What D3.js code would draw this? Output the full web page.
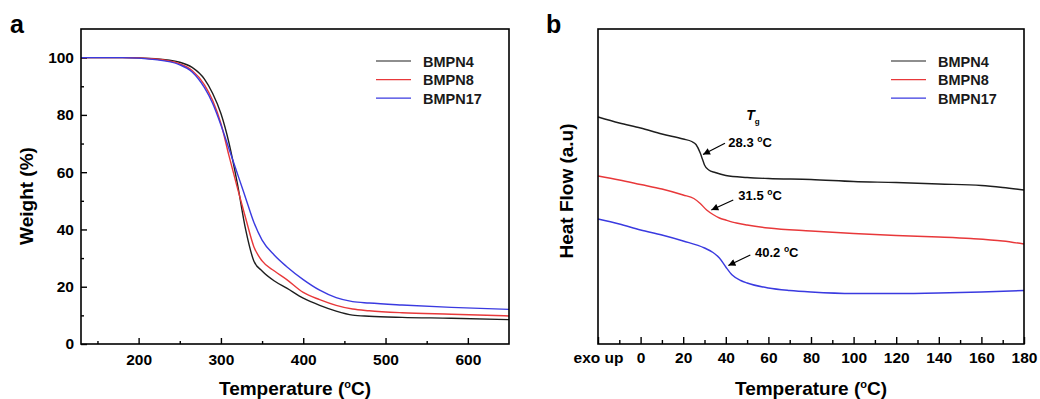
<!DOCTYPE html>
<html>
<head>
<meta charset="utf-8">
<script src="https://cdn.jsdelivr.net/npm/d3@7"></script>
<style>
  body { margin: 0; background: #fff; }
  text { font-family: "Liberation Sans", Arial, sans-serif; }
</style>
</head>
<body>
<svg id="chart" width="1040" height="399"></svg>
<script>
// ---- data ----
const seriesNames = ["BMPN4", "BMPN8", "BMPN17"];

// panel a: TGA, temperature (°C) vs weight (%)
const tgaTemp   = [130, 180, 220, 250, 265, 280, 290, 300, 310, 320, 330, 340, 350, 365, 380, 400, 420, 440, 460, 480, 520, 580, 650];
const tgaBMPN4  = [100, 100, 99.6, 98.4, 96.6, 92.5, 87.5, 80.5, 70, 56, 40, 29, 25.5, 22, 19.5, 16, 13.5, 11.5, 10.1, 9.7, 9.3, 9.0, 8.5];
const tgaBMPN8  = [100, 100, 99.5, 97.8, 95.5, 90.5, 85, 77, 65.5, 54.5, 44, 34, 29, 25.5, 22.5, 18, 15.5, 13.5, 12.2, 11.6, 10.9, 10.4, 9.8];
const tgaBMPN17 = [100, 100, 99.3, 97.5, 95, 89.5, 84, 76.5, 68, 59.5, 51, 42.5, 36.3, 31, 27, 22.5, 18.8, 16.2, 14.8, 14.3, 13.6, 12.8, 12.1];

// panel b: DSC, temperature (°C) vs heat flow (a.u.)
const dscTemp4  = [-20, -10, 0, 10, 20, 24, 26, 28, 29, 30, 32, 35, 40, 50, 60, 80, 100, 120, 140, 160, 170, 180];
const dscFlow4  = [227, 221, 216, 210, 205, 202.5, 199.5, 191, 185, 179, 174, 171.5, 168.5, 166.5, 165.5, 164.5, 162.5, 161.5, 160, 158.5, 156.5, 154];
const dscTemp8  = [-20, -10, 0, 10, 20, 25, 28, 31, 34, 37, 40, 45, 50, 60, 80, 100, 120, 140, 155, 170, 180];
const dscFlow8  = [168, 164, 159.5, 155, 149, 145.5, 140.5, 134, 129.5, 126, 124, 121, 119, 116, 113, 110.5, 108.5, 107, 105.5, 103, 100];
const dscTemp17 = [-20, -10, 0, 10, 20, 30, 34, 37, 40, 43, 47, 50, 60, 70, 80, 100, 120, 140, 160, 180];
const dscFlow17 = [125, 120, 114, 109, 103, 96, 91.5, 86, 77, 69, 63.5, 61, 56, 53.5, 52, 50.5, 50.5, 51, 52, 53.5];

const tgaXTicks = [200, 300, 400, 500, 600];
const tgaYTicks = [0, 20, 40, 60, 80, 100];
const dscXTicks = [-20, 0, 20, 40, 60, 80, 100, 120, 140, 160, 180];
const tgLabels  = ["28.3", "31.5", "40.2"];

// annotation anchors, in DSC data units: label start, arrow tail, arrow head
const annotations = [
  { label: tgLabels[0], lx: 41.2, ly: 197,  x1: 39.6, y1: 200.7, x2: 29.3, y2: 189.5 },
  { label: tgLabels[1], lx: 45.9, ly: 144,  x1: 43.5, y1: 144,   x2: 33.2, y2: 134 },
  { label: tgLabels[2], lx: 53.7, ly: 87.3, x1: 51.5, y1: 89,    x2: 41.2, y2: 78.5 }
];

const colors = ["#1e1e1e", "#e8383a", "#3a3ae0"];

// ---- layout ----
const svg = d3.select("#chart");
const frameA = { left: 81, right: 509, top: 29, bottom: 344 };
const frameB = { left: 598, right: 1024, top: 29, bottom: 344 };

svg.append("defs").append("marker")
  .attr("id", "arrow")
  .attr("viewBox", "0 0 10 10")
  .attr("refX", 10).attr("refY", 5)
  .attr("markerUnits", "userSpaceOnUse")
  .attr("markerWidth", 8).attr("markerHeight", 7)
  .attr("orient", "auto")
  .append("path").attr("d", "M0,0L10,5L0,10z").attr("fill", "#000");

function frame(f) {
  svg.append("rect")
    .attr("x", f.left).attr("y", f.top)
    .attr("width", f.right - f.left).attr("height", f.bottom - f.top)
    .attr("fill", "none").attr("stroke", "#000").attr("stroke-width", 1.6);
}

function styleAxis(g) {
  g.select(".domain").remove();
  g.selectAll(".tick line").attr("stroke", "#000").attr("stroke-width", 1.4);
  g.selectAll(".tick text")
    .attr("fill", "#000")
    .attr("font-size", 15.5).attr("font-weight", "bold");
}

// text with a small raised "o" used as the degree sign
function degreeText(sel, before, after, supSize, rise) {
  sel.append("tspan").text(before);
  sel.append("tspan").attr("font-size", supSize).attr("dy", -rise).text("o");
  sel.append("tspan").attr("dy", rise).text(after);
}

function legend(xLine, yTop) {
  seriesNames.forEach((name, i) => {
    const y = yTop + i * 18.6;
    svg.append("line")
      .attr("x1", xLine).attr("x2", xLine + 35)
      .attr("y1", y).attr("y2", y)
      .attr("stroke", colors[i]).attr("stroke-width", 1.2);
    svg.append("text")
      .attr("x", xLine + 47).attr("y", y + 5.5)
      .attr("font-size", 14.5).attr("font-weight", "bold").attr("fill", "#1a1a1a")
      .text(name);
  });
}

// ---- panel a ----
const xA = d3.scaleLinear().domain([130, 650]).range([frameA.left, frameA.right]);
const yA = d3.scaleLinear().domain([0, 110]).range([frameA.bottom, frameA.top]);

svg.append("g").attr("transform", `translate(0,${frameA.bottom})`)
  .call(d3.axisBottom(xA).tickValues(tgaXTicks).tickSize(-6).tickPadding(10))
  .call(styleAxis);
svg.append("g").attr("transform", `translate(0,${frameA.bottom})`)
  .call(d3.axisBottom(xA).tickValues(d3.range(150, 650, 100)).tickSize(-3).tickFormat(""))
  .call(styleAxis);
svg.append("g").attr("transform", `translate(${frameA.left},0)`)
  .call(d3.axisLeft(yA).tickValues(tgaYTicks).tickSize(-6).tickPadding(7))
  .call(styleAxis);
svg.append("g").attr("transform", `translate(${frameA.left},0)`)
  .call(d3.axisLeft(yA).tickValues(d3.range(10, 110, 20)).tickSize(-3).tickFormat(""))
  .call(styleAxis);

const lineA = d3.line().curve(d3.curveMonotoneX)
  .x(d => xA(d[0])).y(d => yA(d[1]));
[tgaBMPN4, tgaBMPN8, tgaBMPN17].forEach((vals, i) => {
  svg.append("path")
    .datum(tgaTemp.map((t, j) => [t, vals[j]]))
    .attr("d", lineA)
    .attr("fill", "none").attr("stroke", colors[i]).attr("stroke-width", 1.4);
});
frame(frameA);
legend(376, 61);

svg.append("text").attr("x", 10).attr("y", 33)
  .attr("font-size", 25).attr("font-weight", "bold").text("a");
svg.append("text")
  .attr("x", (frameA.left + frameA.right) / 2).attr("y", 395)
  .attr("text-anchor", "middle").attr("font-size", 19).attr("font-weight", "bold")
  .call(degreeText, "Temperature (", "C)", 11, 7);
svg.append("text")
  .attr("transform", "translate(32.5,196) rotate(-90)")
  .attr("text-anchor", "middle").attr("font-size", 19).attr("font-weight", "bold")
  .text("Weight (%)");

// ---- panel b ----
const xB = d3.scaleLinear().domain([-20, 180]).range([frameB.left, frameB.right]);
const yB = d3.scaleLinear().domain([0, 315]).range([frameB.bottom, frameB.top]);

svg.append("g").attr("transform", `translate(0,${frameB.bottom})`)
  .call(d3.axisBottom(xB).tickValues(dscXTicks).tickSize(-7).tickPadding(8)
    .tickFormat(d => d === -20 ? "exo up" : d))
  .call(styleAxis);
svg.append("g").attr("transform", `translate(0,${frameB.bottom})`)
  .call(d3.axisBottom(xB).tickValues(d3.range(-10, 180, 20)).tickSize(-4).tickFormat(""))
  .call(styleAxis);

const lineB = d3.line().curve(d3.curveMonotoneX)
  .x(d => xB(d[0])).y(d => yB(d[1]));
[[dscTemp4, dscFlow4], [dscTemp8, dscFlow8], [dscTemp17, dscFlow17]].forEach(([ts, vs], i) => {
  svg.append("path")
    .datum(ts.map((t, j) => [t, vs[j]]))
    .attr("d", lineB)
    .attr("fill", "none").attr("stroke", colors[i]).attr("stroke-width", 1.4);
});
frame(frameB);
legend(891, 61);

annotations.forEach(a => {
  svg.append("line")
    .attr("x1", xB(a.x1)).attr("y1", yB(a.y1))
    .attr("x2", xB(a.x2)).attr("y2", yB(a.y2))
    .attr("stroke", "#000").attr("stroke-width", 1.2)
    .attr("marker-end", "url(#arrow)");
  svg.append("text")
    .attr("x", xB(a.lx)).attr("y", yB(a.ly))
    .attr("font-size", 13).attr("font-weight", "bold")
    .call(degreeText, a.label + " ", "C", 8.5, 5);
});
const tg = svg.append("text")
  .attr("x", xB(49.6)).attr("y", yB(224))
  .attr("font-size", 14).attr("font-weight", "bold");
tg.append("tspan").attr("font-style", "italic").text("T");
tg.append("tspan").attr("font-size", 8).attr("dy", 4).text("g");

svg.append("text").attr("x", 546).attr("y", 33)
  .attr("font-size", 25).attr("font-weight", "bold").text("b");
svg.append("text")
  .attr("x", (frameB.left + frameB.right) / 2).attr("y", 395)
  .attr("text-anchor", "middle").attr("font-size", 19).attr("font-weight", "bold")
  .call(degreeText, "Temperature (", "C)", 11, 7);
svg.append("text")
  .attr("transform", "translate(572.5,191) rotate(-90)")
  .attr("text-anchor", "middle").attr("font-size", 19).attr("font-weight", "bold")
  .text("Heat Flow (a.u)");
</script>
</body>
</html>
